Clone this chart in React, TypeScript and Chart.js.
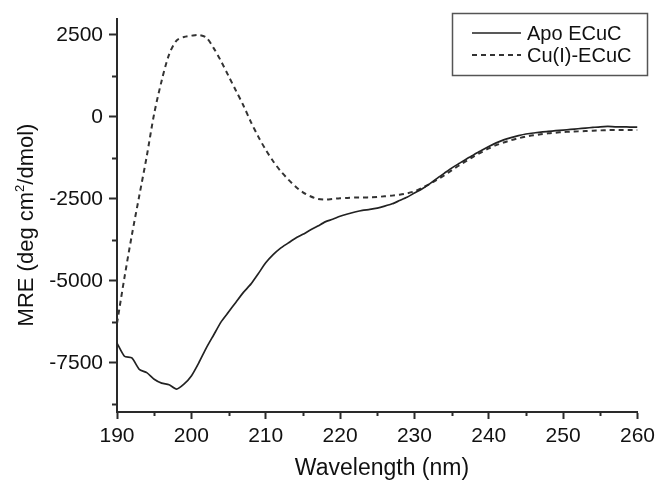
import React, { useEffect, useRef } from "react";
import { Chart, registerables } from "chart.js";

Chart.register(...registerables);

const wavelengths: number[] = [];
for (let w = 190; w <= 260; w++) wavelengths.push(w);

const apoECuC = [
  -6900, -7300, -7350, -7700, -7800, -8000, -8120, -8170, -8300, -8150,
  -7900, -7500, -7050, -6650, -6250, -5950, -5650, -5350, -5100, -4780,
  -4450, -4200, -4000, -3850, -3700, -3580, -3450, -3330, -3200, -3120,
  -3030, -2960, -2900, -2850, -2820, -2780, -2720, -2650, -2550, -2450,
  -2320, -2200, -2050, -1880, -1720, -1560, -1420, -1280, -1150, -1020,
  -900, -790, -700, -630, -570, -520, -490, -460, -440, -420,
  -400, -380, -360, -340, -320, -300, -290, -300, -300, -310,
  -310,
];

const cuECuC = [
  -6300, -4900, -3600, -2400, -1200, 100, 1100, 1900, 2330, 2440,
  2480, 2500, 2420, 2100, 1700, 1250, 800, 350, -150, -600,
  -1000, -1350, -1650, -1900, -2120, -2300, -2420, -2500, -2520, -2500,
  -2480, -2470, -2460, -2460, -2450, -2440, -2420, -2400, -2370, -2330,
  -2270, -2170, -2050, -1920, -1780, -1630, -1480, -1340, -1200, -1080,
  -960, -860, -780, -710, -650, -600, -560, -530, -500, -480,
  -460, -450, -440, -430, -420, -410, -400, -400, -400, -400,
  -400,
];

const seriesNames = ["Apo ECuC", "Cu(I)-ECuC"];
const xTitle = "Wavelength (nm)";
const yTitleParts = ["MRE (deg cm", "2", "/dmol)"];

const FONT = "'Liberation Sans', Arial, Helvetica, sans-serif";
const AXIS_COLOR = "#2a2a2a";

export default function App() {
  const ref = useRef<HTMLCanvasElement | null>(null);

  useEffect(() => {
    if (!ref.current) return;

    const decor = {
      id: "decor",
      afterDraw(chart: any) {
        const ctx = chart.ctx;
        const xs = chart.scales.x;
        const ys = chart.scales.y;
        const area = chart.chartArea;
        ctx.save();
        ctx.strokeStyle = AXIS_COLOR;
        ctx.lineWidth = 2;
        // minor ticks
        for (let v = -8750; v <= 3000; v += 2500) {
          const py = Math.round(ys.getPixelForValue(v)) + 0.5;
          ctx.beginPath();
          ctx.moveTo(area.left - 5, py);
          ctx.lineTo(area.left, py);
          ctx.stroke();
        }
        for (let v = 195; v < 260; v += 10) {
          const px = Math.round(xs.getPixelForValue(v)) + 0.5;
          ctx.beginPath();
          ctx.moveTo(px, area.bottom);
          ctx.lineTo(px, area.bottom + 4);
          ctx.stroke();
        }
        // titles
        ctx.fillStyle = "#111";
        ctx.font = `23px ${FONT}`;
        ctx.textAlign = "center";
        ctx.textBaseline = "alphabetic";
        ctx.fillText(xTitle, 382, 475);

        ctx.save();
        ctx.translate(33, 225);
        ctx.rotate(-Math.PI / 2);
        ctx.font = `22px ${FONT}`;
        const w1 = ctx.measureText(yTitleParts[0]).width;
        ctx.font = `13px ${FONT}`;
        const w2 = ctx.measureText(yTitleParts[1]).width;
        ctx.font = `22px ${FONT}`;
        const w3 = ctx.measureText(yTitleParts[2]).width;
        const total = w1 + w2 + w3;
        let sx = -total / 2;
        ctx.textAlign = "left";
        ctx.fillText(yTitleParts[0], sx, 0);
        sx += w1;
        ctx.font = `13px ${FONT}`;
        ctx.fillText(yTitleParts[1], sx, -9);
        sx += w2;
        ctx.font = `22px ${FONT}`;
        ctx.fillText(yTitleParts[2], sx, 0);
        ctx.restore();

        // legend
        ctx.strokeStyle = "#555";
        ctx.lineWidth = 1.5;
        ctx.strokeRect(452.5, 13.5, 195, 62);
        ctx.font = `20px ${FONT}`;
        ctx.textAlign = "left";
        ctx.fillStyle = "#111";
        ctx.strokeStyle = "#222";
        ctx.lineWidth = 1.7;
        ctx.setLineDash([]);
        ctx.beginPath();
        ctx.moveTo(472, 33);
        ctx.lineTo(521, 33);
        ctx.stroke();
        ctx.fillText(seriesNames[0], 527, 40);
        ctx.setLineDash([5, 4]);
        ctx.lineWidth = 2;
        ctx.strokeStyle = "#333";
        ctx.beginPath();
        ctx.moveTo(472, 55);
        ctx.lineTo(521, 55);
        ctx.stroke();
        ctx.setLineDash([]);
        ctx.fillText(seriesNames[1], 527, 62);
        ctx.restore();
      },
    };

    const chart = new Chart(ref.current, {
      type: "line",
      data: {
        datasets: [
          {
            label: seriesNames[0],
            data: wavelengths.map((w, i) => ({ x: w, y: apoECuC[i] })),
            borderColor: "#222",
            borderWidth: 1.7,
            pointRadius: 0,
            tension: 0.2,
          },
          {
            label: seriesNames[1],
            data: wavelengths.map((w, i) => ({ x: w, y: cuECuC[i] })),
            borderColor: "#333",
            borderWidth: 2,
            borderDash: [5, 4],
            pointRadius: 0,
            tension: 0.3,
          },
        ],
      },
      options: {
        animation: false,
        responsive: false,
        layout: { padding: { top: 16, right: 22, left: 0, bottom: 0 } },
        plugins: { legend: { display: false }, tooltip: { enabled: false } },
        scales: {
          x: {
            type: "linear",
            min: 190,
            max: 260,
            afterFit: (s: any) => {
              s.height = 69;
            },
            ticks: {
              stepSize: 10,
              padding: 5,
              color: "#111",
              font: { size: 21, family: FONT },
              maxRotation: 0,
            },
            grid: {
              drawOnChartArea: false,
              drawTicks: true,
              tickLength: 7,
              tickWidth: 2,
              tickColor: AXIS_COLOR,
            },
            border: { display: true, color: AXIS_COLOR, width: 2 },
          },
          y: {
            type: "linear",
            min: -9000,
            max: 3000,
            afterFit: (s: any) => {
              s.width = 117;
            },
            afterBuildTicks: (s: any) => {
              s.ticks = [-7500, -5000, -2500, 0, 2500].map((v) => ({ value: v }));
            },
            ticks: {
              padding: 6,
              color: "#111",
              font: { size: 21, family: FONT },
              callback: (v: any) => String(v),
            },
            grid: {
              drawOnChartArea: false,
              drawTicks: true,
              tickLength: 8,
              tickWidth: 2,
              tickColor: AXIS_COLOR,
            },
            border: { display: true, color: AXIS_COLOR, width: 2 },
          },
        },
      },
      plugins: [decor],
    });
    return () => chart.destroy();
  }, []);

  return (
    <div style={{ position: "fixed", left: 0, top: 0, width: 660, height: 481, background: "#fff" }}>
      <canvas ref={ref} width={660} height={481} style={{ width: 660, height: 481 }} />
    </div>
  );
}
